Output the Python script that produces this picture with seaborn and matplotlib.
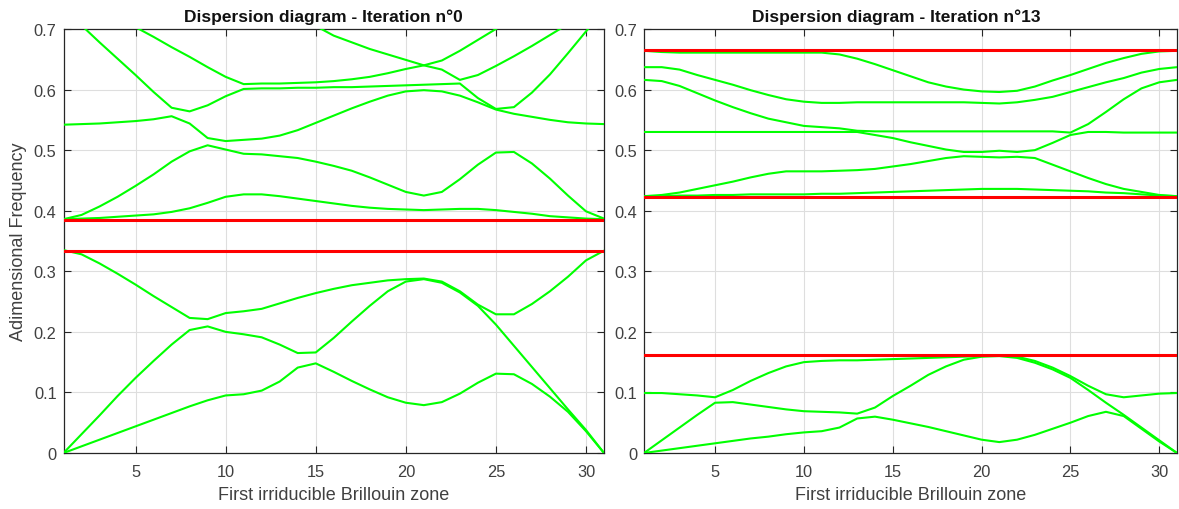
import matplotlib
matplotlib.use("Agg")
import matplotlib.pyplot as plt
import seaborn as sns
import pandas as pd

# ---------------- data ----------------
k_points = list(range(1, 32))
x_ticks = [5, 10, 15, 20, 25, 30]
y_ticks = [0, 0.1, 0.2, 0.3, 0.4, 0.5, 0.6, 0.7]
y_tick_labels = ["0", "0.1", "0.2", "0.3", "0.4", "0.5", "0.6", "0.7"]
titles = ["Dispersion diagram - Iteration n°0", "Dispersion diagram - Iteration n°13"]
x_label = "First irriducible Brillouin zone"
y_label = "Adimensional Frequency"

# Iteration 0 bands
it0_b1 = [0, 0.011, 0.022, 0.033, 0.044, 0.055, 0.066, 0.077, 0.087, 0.095, 0.097, 0.103, 0.118, 0.141, 0.148,
          0.134, 0.119, 0.105, 0.092, 0.083, 0.079, 0.084, 0.098, 0.116, 0.131, 0.130, 0.114, 0.093, 0.068, 0.036, 0]
it0_b2 = [0, 0.031, 0.062, 0.094, 0.124, 0.152, 0.179, 0.203, 0.209, 0.200, 0.196, 0.191, 0.179, 0.165, 0.166,
          0.190, 0.217, 0.243, 0.267, 0.283, 0.287, 0.281, 0.265, 0.243, 0.212, 0.177, 0.142, 0.107, 0.072, 0.038, 0]
it0_b3 = [0.335, 0.328, 0.313, 0.296, 0.278, 0.259, 0.241, 0.223, 0.221, 0.231, 0.234, 0.238, 0.247, 0.256, 0.264,
          0.271, 0.277, 0.281, 0.285, 0.287, 0.288, 0.283, 0.267, 0.245, 0.229, 0.229, 0.246, 0.267, 0.291, 0.318, 0.334]
it0_b4 = [0.386, 0.387, 0.388, 0.390, 0.392, 0.394, 0.398, 0.404, 0.413, 0.423, 0.427, 0.427, 0.424, 0.420, 0.416,
          0.412, 0.408, 0.405, 0.403, 0.402, 0.401, 0.402, 0.403, 0.403, 0.401, 0.398, 0.395, 0.391, 0.389, 0.387, 0.386]
it0_b5 = [0.386, 0.393, 0.407, 0.423, 0.441, 0.460, 0.481, 0.498, 0.508, 0.501, 0.494, 0.493, 0.490, 0.487, 0.481,
          0.474, 0.466, 0.455, 0.443, 0.431, 0.425, 0.431, 0.452, 0.476, 0.496, 0.497, 0.478, 0.453, 0.425, 0.399, 0.387]
it0_b6 = [0.542, 0.543, 0.544, 0.546, 0.548, 0.551, 0.556, 0.544, 0.520, 0.515, 0.517, 0.519, 0.524, 0.533, 0.545,
          0.557, 0.569, 0.580, 0.590, 0.597, 0.599, 0.597, 0.590, 0.579, 0.567, 0.560, 0.555, 0.550, 0.546, 0.544, 0.543]
it0_b7 = [0.733, 0.706, 0.678, 0.651, 0.624, 0.596, 0.570, 0.564, 0.574, 0.589, 0.601, 0.602, 0.602, 0.603, 0.603,
          0.604, 0.604, 0.605, 0.606, 0.607, 0.608, 0.609, 0.610, 0.586, 0.568, 0.571, 0.595, 0.625, 0.660, 0.696, 0.730]
it0_b8 = [0.768, 0.752, 0.736, 0.719, 0.703, 0.687, 0.670, 0.654, 0.637, 0.621, 0.609, 0.610, 0.610, 0.611, 0.612,
          0.614, 0.617, 0.621, 0.627, 0.634, 0.640, 0.633, 0.616, 0.624, 0.639, 0.655, 0.672, 0.690, 0.708, 0.725, 0.740]
it0_b9 = [0.800, 0.800, 0.800, 0.800, 0.800, 0.800, 0.800, 0.795, 0.790, 0.780, 0.765, 0.750, 0.735, 0.720, 0.705,
          0.689, 0.678, 0.667, 0.658, 0.649, 0.640, 0.648, 0.664, 0.682, 0.700, 0.720, 0.740, 0.760, 0.780, 0.790, 0.800]
it0_gaps = [0.334, 0.385]

# Iteration 13 bands
it13_b1 = [0, 0.004, 0.008, 0.012, 0.016, 0.020, 0.024, 0.027, 0.031, 0.034, 0.036, 0.042, 0.057, 0.060, 0.055,
           0.049, 0.043, 0.036, 0.029, 0.022, 0.018, 0.022, 0.030, 0.040, 0.050, 0.061, 0.068, 0.061, 0.040, 0.019, 0]
it13_b2 = [0, 0.021, 0.042, 0.063, 0.083, 0.084, 0.080, 0.076, 0.072, 0.069, 0.068, 0.067, 0.065, 0.075, 0.094,
           0.111, 0.129, 0.143, 0.154, 0.159, 0.160, 0.157, 0.149, 0.138, 0.124, 0.104, 0.083, 0.063, 0.042, 0.021, 0]
it13_b3 = [0.099, 0.099, 0.097, 0.095, 0.092, 0.104, 0.119, 0.132, 0.143, 0.150, 0.152, 0.153, 0.153, 0.154, 0.155,
           0.156, 0.157, 0.158, 0.159, 0.160, 0.161, 0.159, 0.152, 0.141, 0.127, 0.111, 0.097, 0.092, 0.095, 0.098, 0.099]
it13_b4 = [0.424, 0.424, 0.425, 0.425, 0.426, 0.426, 0.427, 0.427, 0.427, 0.427, 0.428, 0.428, 0.429, 0.430, 0.431,
           0.432, 0.433, 0.434, 0.435, 0.436, 0.436, 0.436, 0.435, 0.434, 0.433, 0.432, 0.430, 0.429, 0.427, 0.425, 0.424]
it13_b5 = [0.424, 0.426, 0.430, 0.436, 0.442, 0.448, 0.455, 0.461, 0.465, 0.465, 0.465, 0.466, 0.467, 0.469, 0.473,
           0.477, 0.482, 0.487, 0.490, 0.489, 0.488, 0.489, 0.487, 0.476, 0.465, 0.454, 0.444, 0.436, 0.431, 0.426, 0.424]
it13_b6 = [0.530, 0.530, 0.530, 0.530, 0.530, 0.530, 0.530, 0.530, 0.530, 0.530, 0.530, 0.530, 0.530, 0.525, 0.520,
           0.513, 0.507, 0.501, 0.497, 0.497, 0.499, 0.497, 0.500, 0.512, 0.525, 0.530, 0.530, 0.529, 0.529, 0.529, 0.529]
it13_b7 = [0.616, 0.614, 0.606, 0.594, 0.582, 0.571, 0.561, 0.552, 0.546, 0.540, 0.538, 0.536, 0.532, 0.531, 0.531,
           0.531, 0.531, 0.531, 0.531, 0.531, 0.531, 0.531, 0.531, 0.531, 0.529, 0.543, 0.563, 0.584, 0.602, 0.612, 0.616]
it13_b8 = [0.637, 0.637, 0.633, 0.624, 0.616, 0.608, 0.599, 0.591, 0.584, 0.580, 0.578, 0.578, 0.579, 0.579, 0.579,
           0.579, 0.579, 0.579, 0.579, 0.578, 0.577, 0.579, 0.583, 0.588, 0.596, 0.604, 0.612, 0.619, 0.628, 0.634, 0.637]
it13_b9 = [0.664, 0.662, 0.661, 0.661, 0.661, 0.661, 0.661, 0.661, 0.661, 0.661, 0.661, 0.658, 0.651, 0.642, 0.632,
           0.622, 0.612, 0.605, 0.600, 0.597, 0.596, 0.598, 0.605, 0.615, 0.624, 0.634, 0.644, 0.652, 0.659, 0.663, 0.664]
it13_gaps = [0.162, 0.423, 0.665]

bands_it0 = [it0_b1, it0_b2, it0_b3, it0_b4, it0_b5, it0_b6, it0_b7, it0_b8, it0_b9]
bands_it13 = [it13_b1, it13_b2, it13_b3, it13_b4, it13_b5, it13_b6, it13_b7, it13_b8, it13_b9]

# ---------------- style ----------------
sns.set_theme(style="white")
plt.rcParams["font.family"] = ["Liberation Sans", "DejaVu Sans"]

W, H = 1179, 510
fig = plt.figure(figsize=(W / 100, H / 100), dpi=100)
ax_l = fig.add_axes([63.5 / W, 56 / H, 540.5 / W, 424 / H])
ax_r = fig.add_axes([644 / W, 56 / H, 533 / W, 424 / H])

axis_col = "#262626"
green = "#00ff00"
red = "#ff0000"


def draw(ax, bands, gaps, title, title_x, show_ylabel):
    rows = []
    for bi, b in enumerate(bands):
        for kk, v in zip(k_points, b):
            rows.append({"k": kk, "freq": v, "band": bi})
    df = pd.DataFrame(rows)
    sns.lineplot(data=df, x="k", y="freq", units="band", estimator=None,
                 color=green, linewidth=1.5, ax=ax, sort=False, zorder=3)
    for g in gaps:
        ax.axhline(g, color=red, linewidth=2.2, zorder=4)
    ax.set_xlim(1, 31)
    ax.set_ylim(0, 0.7)
    ax.set_xticks(x_ticks)
    ax.set_yticks(y_ticks)
    ax.set_yticklabels(y_tick_labels)
    ax.grid(True, color="#dedede", linewidth=0.8, zorder=0)
    ax.set_axisbelow(True)
    ax.tick_params(direction="in", length=5, width=0.8, colors=axis_col,
                   labelcolor="#404040", labelsize=11.8, top=True, right=True,
                   bottom=True, left=True)
    ax.tick_params(axis="x", pad=8)
    ax.tick_params(axis="y", pad=5)
    for s in ax.spines.values():
        s.set_color(axis_col)
        s.set_linewidth(0.9)
        s.set_visible(True)
    ax.set_title(title, fontsize=12.5, fontweight="bold", color="#111111", pad=6, x=title_x)
    ax.set_xlabel(x_label, fontsize=13, color="#404040", labelpad=5)
    if show_ylabel:
        ax.set_ylabel(y_label, fontsize=13, color="#404040", labelpad=5)
    else:
        ax.set_ylabel("")


draw(ax_l, bands_it0, it0_gaps, titles[0], 0.48, True)
draw(ax_r, bands_it13, it13_gaps, titles[1], 0.474, False)

fig.savefig("out.png", dpi=100, facecolor="white")
